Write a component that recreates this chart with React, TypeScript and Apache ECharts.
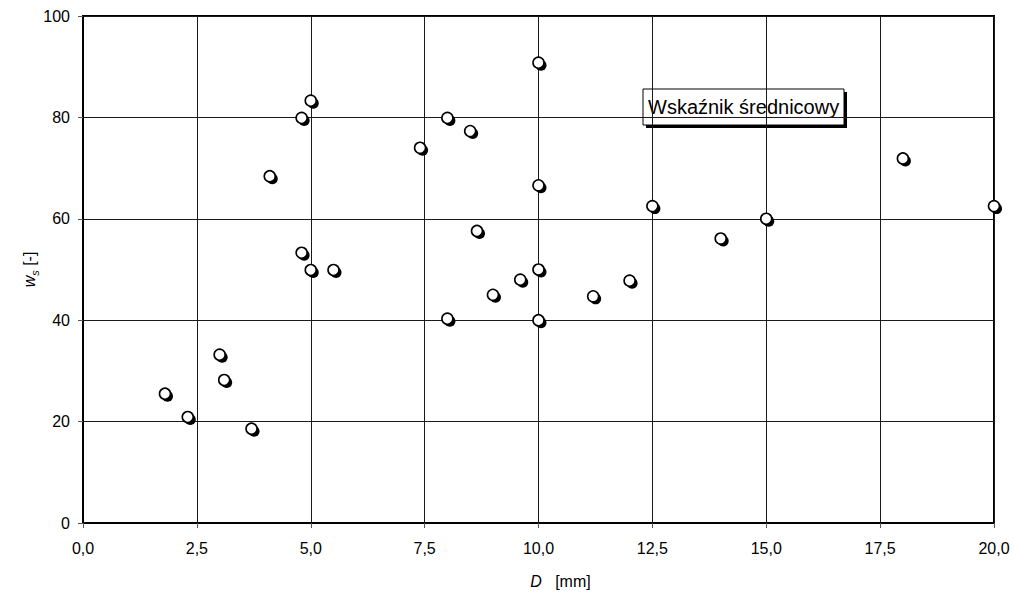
import React, { useEffect, useRef } from "react";
import * as echarts from "echarts";

// D [mm]
const diameters = [1.8, 2.3, 3.0, 3.1, 3.7, 4.1, 4.8, 5.0, 4.8, 5.0, 5.5, 7.4, 8.0, 8.5, 8.65, 8.0, 9.0, 9.6, 10.0, 10.0, 10.0, 10.0, 11.2, 12.0, 12.5, 14.0, 15.0, 18.0, 20.0];
// w_s [-]
const ratios = [25.5, 20.9, 33.2, 28.2, 18.6, 68.4, 79.9, 83.3, 53.3, 49.9, 49.9, 74.0, 79.9, 77.3, 57.6, 40.3, 45.0, 48.0, 90.8, 66.6, 50.0, 40.0, 44.7, 47.8, 62.5, 56.1, 60.0, 71.9, 62.5];

const xTickValues = [0, 2.5, 5, 7.5, 10, 12.5, 15, 17.5, 20];
const xTickLabels = ["0,0", "2,5", "5,0", "7,5", "10,0", "12,5", "15,0", "17,5", "20,0"];
const yTickValues = [0, 20, 40, 60, 80, 100];
const yTickLabels = ["0", "20", "40", "60", "80", "100"];
const annotation = "Wskaźnik średnicowy";

const FONT = "'Liberation Sans', Arial, sans-serif";

export default function App() {
  const ref = useRef<HTMLDivElement>(null);
  useEffect(() => {
    if (!ref.current) return;
    const chart = echarts.init(ref.current, null, { renderer: "svg" });
    const pts = diameters.map((d, i) => [d, ratios[i]]);
    const lookup = (vals: number[], labels: string[], v: number) => {
      const i = vals.findIndex((t) => Math.abs(t - v) < 1e-6);
      return i >= 0 ? labels[i] : "";
    };
    chart.setOption({
      animation: false,
      backgroundColor: "#fff",
      textStyle: { fontFamily: FONT, color: "#000" },
      grid: {
        left: 83,
        top: 16,
        right: 20,
        bottom: 68,
        show: true,
        borderColor: "#000",
        borderWidth: 2,
        backgroundColor: "transparent",
      },
      xAxis: {
        type: "value",
        min: 0,
        max: 20,
        interval: 2.5,
        name: "{i|D}{n|   [mm]}",
        nameLocation: "middle",
        nameGap: 50,
        nameTextStyle: {
          fontFamily: FONT,
          color: "#000",
          padding: [0, 0, 0, 44],
          rich: {
            i: { fontSize: 16, fontStyle: "italic", fontFamily: FONT, color: "#000" },
            n: { fontSize: 16, fontFamily: FONT, color: "#000" },
          },
        },
        axisLine: { show: true, lineStyle: { color: "#000", width: 2 } },
        axisTick: { show: true, length: 5, lineStyle: { color: "#555", width: 1 } },
        axisLabel: {
          fontSize: 16,
          fontFamily: FONT,
          color: "#000",
          margin: 17,
          formatter: (v: number) => lookup(xTickValues, xTickLabels, v),
        },
        splitLine: { show: true, lineStyle: { color: "#1a1a1a", width: 1 } },
      },
      yAxis: {
        type: "value",
        min: 0,
        max: 100,
        interval: 20,
        name: "{i|w}{s|s}{n| [-]}",
        nameLocation: "middle",
        nameRotate: 90,
        nameGap: 43,
        nameMoveOverlap: false,
        nameTextStyle: {
          fontFamily: FONT,
          color: "#000",
          rich: {
            i: { fontSize: 16, fontStyle: "italic", fontFamily: FONT, color: "#000", lineHeight: 22, verticalAlign: "middle" },
            s: { fontSize: 11, fontStyle: "italic", fontFamily: FONT, color: "#000", lineHeight: 22, verticalAlign: "bottom" },
            n: { fontSize: 16, fontFamily: FONT, color: "#000", lineHeight: 22, verticalAlign: "middle" },
          },
        },
        axisLine: { show: true, lineStyle: { color: "#000", width: 2 } },
        axisTick: { show: true, length: 5, lineStyle: { color: "#555", width: 1 } },
        axisLabel: {
          fontSize: 16,
          fontFamily: FONT,
          color: "#000",
          margin: 13,
          formatter: (v: number) => lookup(yTickValues, yTickLabels, v),
        },
        splitLine: { show: true, lineStyle: { color: "#1a1a1a", width: 1 } },
      },
      series: [
        {
          type: "scatter",
          data: pts,
          symbol: "circle",
          symbolSize: 11,
          symbolOffset: [2.5, 2.5],
          clip: false,
          itemStyle: { color: "#000", opacity: 1 },
          z: 3,
          silent: true,
        },
        {
          type: "scatter",
          data: pts,
          symbol: "circle",
          symbolSize: 11,
          clip: false,
          itemStyle: { color: "#fff", borderColor: "#000", borderWidth: 1.6, opacity: 1 },
          z: 4,
          silent: true,
        },
      ],
      graphic: [
        {
          type: "group",
          x: 643,
          y: 89,
          z: 10,
          children: [
            { type: "rect", shape: { x: 3, y: 3, width: 201, height: 36 }, style: { fill: "#000" } },
            { type: "rect", shape: { x: 0, y: 0, width: 201, height: 36 }, style: { fill: "#fff", stroke: "#000", lineWidth: 1 } },
            {
              type: "text",
              x: 5,
              y: 18,
              style: {
                text: annotation,
                font: `20px ${FONT}`,
                fill: "#000",
                verticalAlign: "middle",
                align: "left",
              },
            },
          ],
        },
      ],
    });
    return () => chart.dispose();
  }, []);
  return (
    <div
      ref={ref}
      style={{ position: "absolute", left: 0, top: 0, width: 1014, height: 594, background: "#fff" }}
    />
  );
}
